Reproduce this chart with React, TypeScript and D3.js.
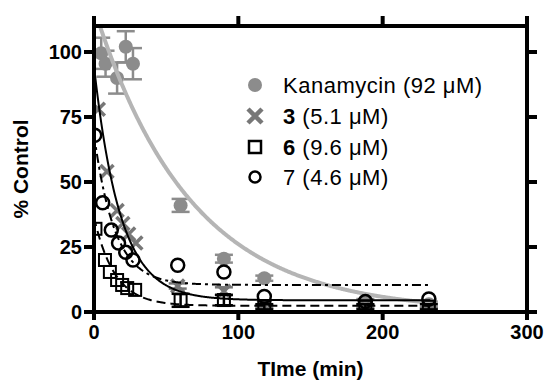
import React from 'react';
import * as d3 from 'd3';

// time points (min) and % control for each compound
const kanTime = [5, 8, 16, 22, 27, 60, 90, 118, 188, 232];
const kanVal = [99.5, 95.5, 90, 102, 95.5, 41, 20.5, 13, 4, 3];
const kanErr = [6, 5, 6, 6, 6, 2.5, 1.5, 1, 1, 1];

const c3Time = [3, 9, 16, 20, 24, 29, 58, 90, 118, 188, 232];
const c3Val = [78, 54, 39, 34, 30, 26.5, 10, 8, 2, 2, 1];
const c3Err = [0, 0, 0, 0, 0, 0, 1, 1.5, 0.5, 0.5, 0.5];

const c6Time = [1, 7.6, 11, 16, 19.5, 23, 28.5, 60, 90, 118, 188, 232];
const c6Val = [32, 20, 15.4, 12.3, 10.4, 9.2, 8.5, 4.5, 4.6, 2, 2, 2];
const c6Err = [0, 0, 0, 0, 0, 0, 0, 2.5, 2, 1, 1, 1];

const c7Time = [0.5, 6, 12, 17, 22, 27, 58, 90, 118, 188, 232];
const c7Val = [68, 42, 31.5, 26.5, 23, 20, 18, 15.4, 6, 4, 5];

// one-phase decay fits: [span, rate k, plateau]
const kanFit = [117, 0.015, 0];
const c3Fit = [90, 0.055, 4.5];
const c6Fit = [34, 0.07, 2.4];
const c7Fit = [58, 0.07, 10.4];

const xTicks = [0, 100, 200, 300];
const yTicks = [0, 25, 50, 75, 100];

const legendNames = ['Kanamycin', '3', '6', '7'];
const legendConc = [' (92 \u03bcM)', ' (5.1 \u03bcM)', ' (9.6 \u03bcM)', ' (4.6 \u03bcM)'];
const legendBold = [false, true, true, false];

const grey = '#8c8c8c';

const App = () => {
  const width = 544;
  const height = 382;
  const x = d3.scaleLinear().domain([0, 300]).range([94, 527]);
  const y = d3.scaleLinear().domain([0, 110]).range([312, 26]);

  const fitPath = (p: number[]) => {
    const ts = d3.range(0, 233.5, 0.5);
    return d3.line<number>()
      .x(t => x(t))
      .y(t => y(p[2] + p[0] * Math.exp(-p[1] * t)))(ts) || '';
  };

  const errBars = (ts: number[], vs: number[], es: number[], color: string, key: string) =>
    ts.filter((_, i) => es[i] > 0).map((t) => {
      const i = ts.indexOf(t);
      return (
        <g key={key + i} stroke={color} strokeWidth={2.5}>
          <line x1={x(t)} x2={x(t)} y1={y(vs[i] - es[i])} y2={y(vs[i] + es[i])} />
          <line x1={x(t) - 9} x2={x(t) + 9} y1={y(vs[i] - es[i])} y2={y(vs[i] - es[i])} />
          <line x1={x(t) - 9} x2={x(t) + 9} y1={y(vs[i] + es[i])} y2={y(vs[i] + es[i])} />
        </g>
      );
    });

  const cross = (cx: number, cy: number, s: number, sw: number, key: string) => (
    <path key={key} d={`M${cx - s},${cy - s}L${cx + s},${cy + s}M${cx - s},${cy + s}L${cx + s},${cy - s}`}
      stroke="#777" strokeWidth={sw} fill="none" />
  );

  const font = 'Liberation Sans, Arial, Helvetica, sans-serif';
  const legY = [85, 116, 147, 177];

  return (
    <svg width={width} height={height} style={{ position: 'absolute', left: 0, top: 0 }}
      fontFamily={font}>
      <defs>
        <clipPath id="plot">
          <rect x={x(0)} y={y(110)} width={x(300) - x(0)} height={y(0) - y(110)} />
        </clipPath>
      </defs>

      <g clipPath="url(#plot)">
        {errBars(kanTime, kanVal, kanErr, grey, 'ke')}
        {kanTime.map((t, i) => (
          <circle key={'k' + i} cx={x(t)} cy={y(kanVal[i])} r={7} fill={grey} />
        ))}
        <path d={fitPath(kanFit)} fill="none" stroke="#b5b5b5" strokeWidth={4} />

        {errBars(c3Time, c3Val, c3Err, '#777', 'e3')}
        {c3Time.map((t, i) => cross(x(t), y(c3Val[i]), 6.5, 3.5, 'x' + i))}

        {errBars(c6Time, c6Val, c6Err, '#000', 'e6')}
        {c6Time.map((t, i) => (
          <rect key={'s' + i} x={x(t) - 6} y={y(c6Val[i]) - 6} width={12} height={12}
            fill="none" stroke="#000" strokeWidth={2} />
        ))}

        {c7Time.map((t, i) => (
          <circle key={'o' + i} cx={x(t)} cy={y(c7Val[i])} r={6.5} fill="none" stroke="#000" strokeWidth={2.5} />
        ))}

        <path d={fitPath(c3Fit)} fill="none" stroke="#000" strokeWidth={2} />
        <path d={fitPath(c6Fit)} fill="none" stroke="#000" strokeWidth={2} strokeDasharray="9,5" />
        <path d={fitPath(c7Fit)} fill="none" stroke="#000" strokeWidth={2} strokeDasharray="9,4,3,4" />
      </g>

      {/* frame */}
      <g stroke="#000" strokeWidth={4} fill="none">
        <line x1={x(0)} x2={x(0)} y1={y(110) - 10} y2={y(0) + 8} />
        <line x1={x(300)} x2={x(300)} y1={y(110) - 10} y2={y(0) + 8} />
        <line x1={x(0) - 10} x2={x(300) + 10} y1={y(0)} y2={y(0)} />
        <line x1={x(0)} x2={x(300) + 2} y1={y(110)} y2={y(110)} />
        {xTicks.map(t => (
          <g key={'xt' + t}>
            <line x1={x(t)} x2={x(t)} y1={y(0)} y2={y(0) + 8} />
            <line x1={x(t)} x2={x(t)} y1={y(110)} y2={y(110) - 10} />
          </g>
        ))}
        {yTicks.map(t => (
          <g key={'yt' + t}>
            <line x1={x(0) - 10} x2={x(0)} y1={y(t)} y2={y(t)} />
            <line x1={x(300)} x2={x(300) + 10} y1={y(t)} y2={y(t)} />
          </g>
        ))}
      </g>

      {xTicks.map(t => (
        <text key={'xl' + t} x={x(t)} y={339} textAnchor="middle" fontSize={20} fontWeight="bold">{t}</text>
      ))}
      {yTicks.map(t => (
        <text key={'yl' + t} x={x(0) - 12} y={y(t) + 7} textAnchor="end" fontSize={20} fontWeight="bold">{t}</text>
      ))}

      <text x={(x(0) + x(300)) / 2} y={376} textAnchor="middle" fontSize={21} fontWeight="bold">TIme (min)</text>
      <text transform={`translate(28,${(y(0) + y(110)) / 2}) rotate(-90)`} textAnchor="middle"
        fontSize={21} fontWeight="bold">% Control</text>

      {/* legend */}
      <circle cx={255} cy={legY[0]} r={7} fill={grey} />
      {cross(255, legY[1], 7, 4.5, 'lx')}
      <rect x={249} y={legY[2] - 6} width={12} height={12} fill="none" stroke="#000" strokeWidth={2.5} />
      <circle cx={255} cy={legY[3]} r={5.5} fill="none" stroke="#000" strokeWidth={2.5} />
      {legendNames.map((n, i) => (
        <text key={'lg' + i} x={283} y={legY[i] + 8} fontSize={22} letterSpacing={0.5}>
          <tspan fontWeight={legendBold[i] ? 'bold' : 'normal'}>{n}</tspan>
          <tspan>{legendConc[i]}</tspan>
        </text>
      ))}
    </svg>
  );
};

export default App;
